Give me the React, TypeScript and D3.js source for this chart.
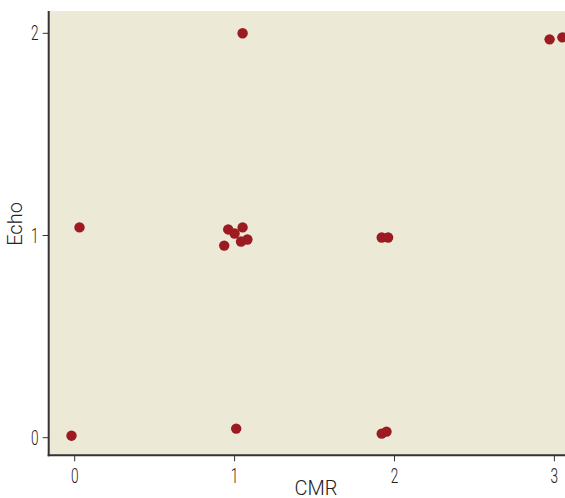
import React from "react";
import * as d3 from "d3";

const cmrValues = [-0.02, 0.03, 1.05, 0.96, 1.0, 1.05, 1.08, 1.04, 0.935, 1.01, 1.92, 1.96, 1.92, 1.95, 2.97, 3.05];
const echoValues = [0.01, 1.04, 2.0, 1.03, 1.01, 1.04, 0.98, 0.97, 0.95, 0.045, 0.99, 0.99, 0.02, 0.03, 1.97, 1.98];
const xTicks = [0, 1, 2, 3];
const yTicks = [0, 1, 2];
const xLabel = "CMR";
const yLabel = "Echo";

const W = 565;
const H = 498;
const left = 48.7;
const top = 11;
const bottom = 455.3;

export default function App() {
  const x = d3.scaleLinear().domain([0, 1]).range([74.7, 234.6]);
  const y = d3.scaleLinear().domain([0, 2]).range([437.7, 33.3]);
  const points = cmrValues.map((c, i) => ({ c, e: echoValues[i] }));
  const tickFont = "Roboto, sans-serif";
  return (
    <svg width={W} height={H} style={{ position: "absolute", left: 0, top: 0 }}>
      <rect x={left} y={top} width={W - left + 10} height={bottom - top} fill="#ECE9D7" />
      {points.map((p, i) => (
        <circle key={i} cx={x(p.c)} cy={y(p.e)} r={5.2} fill="#9B1B21" />
      ))}
      <line x1={left} x2={left} y1={top} y2={bottom + 1} stroke="#333" strokeWidth={2} />
      <line x1={left - 1} x2={W} y1={bottom} y2={bottom} stroke="#333" strokeWidth={2} />
      {yTicks.map((t) => (
        <g key={t}>
          <line x1={left - 6} x2={left} y1={y(t)} y2={y(t)} stroke="#333" strokeWidth={1} />
          <text transform={`translate(${left - 10}, ${y(t) + 7}) scale(0.7, 1)`} textAnchor="end" fontFamily={tickFont} fontWeight={300} fontSize={19.5} fill="#222">
            {t}
          </text>
        </g>
      ))}
      {xTicks.map((t) => (
        <g key={t}>
          <line x1={x(t)} x2={x(t)} y1={bottom} y2={bottom + 6} stroke="#333" strokeWidth={1} />
          <text transform={`translate(${x(t)}, 483) scale(0.7, 1)`} textAnchor="middle" fontFamily={tickFont} fontWeight={300} fontSize={19.5} fill="#222">
            {t}
          </text>
        </g>
      ))}
      <text x={316} y={494.5} textAnchor="middle" fontFamily="Roboto, sans-serif" fontWeight={300} fontSize={20} fill="#222">
        {xLabel}
      </text>
      <text transform={`translate(22, 224) rotate(-90)`} textAnchor="middle" fontFamily="Roboto, sans-serif" fontWeight={300} fontSize={20} fill="#222">
        {yLabel}
      </text>
    </svg>
  );
}
